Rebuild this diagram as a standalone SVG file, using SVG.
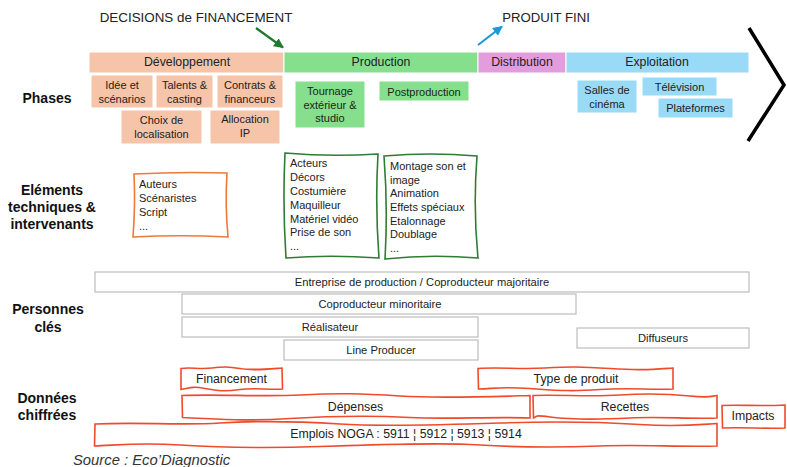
<svg xmlns="http://www.w3.org/2000/svg" width="787" height="467" viewBox="0 0 787 467">
<style>
text{font-family:"Liberation Sans",Arial,sans-serif;fill:#222}
.lbl{font-weight:bold;font-size:14px;text-anchor:middle;fill:#111}
.hd{font-size:12.3px;text-anchor:middle}
.sb{font-size:11px;text-anchor:middle}
.it{font-size:11px}
.gy{font-size:11.2px;text-anchor:middle}
.rd{font-size:12.3px;text-anchor:middle}
.dev{fill:#f6c5a9;stroke:#fff;stroke-width:1}
.prod{fill:#86df8c;stroke:#fff;stroke-width:1}
.dist{fill:#e49ddc;stroke:#fff;stroke-width:1}
.expl{fill:#99daf6;stroke:#fff;stroke-width:1}
.gbox{fill:#fff;stroke:#bdbdbd;stroke-width:1.2}
.red{fill:#fff;stroke:#f04a2a;stroke-width:1.6}
.org{fill:#fff;stroke:#f07838;stroke-width:1.6}
.grn{fill:#fff;stroke:#2e7d32;stroke-width:1.6}
</style>
<defs>
<marker id="ag" viewBox="0 0 10 10" refX="9" refY="5" markerWidth="4.5" markerHeight="4.5" orient="auto"><path d="M0,0 L10,5 L0,10 Z" fill="#1e7a2e"/></marker>
<marker id="ab" viewBox="0 0 10 10" refX="9" refY="5" markerWidth="4.5" markerHeight="4.5" orient="auto"><path d="M0,0 L10,5 L0,10 Z" fill="#1c9ad6"/></marker>
</defs>

<g id="titles">
<text x="196" y="22" style="font-size:13.4px;text-anchor:middle">DECISIONS de FINANCEMENT</text>
<text x="546" y="22" style="font-size:13.2px;text-anchor:middle">PRODUIT FINI</text>
</g>

<g id="connectors">
<line x1="256" y1="28" x2="283" y2="47.5" stroke="#1e7a2e" stroke-width="2.2" marker-end="url(#ag)"/>
<line x1="478" y1="45" x2="502" y2="26.5" stroke="#1c9ad6" stroke-width="2.2" marker-end="url(#ab)"/>
<polyline points="749,28 784,85 748,141" fill="none" stroke="#000" stroke-width="3.5"/>
</g>

<g id="labels">
<text class="lbl" x="47" y="103">Phases</text>
<text class="lbl" x="52" y="195">Eléments</text>
<text class="lbl" x="52" y="212">techniques &amp;</text>
<text class="lbl" x="52" y="229">intervenants</text>
<text class="lbl" x="48" y="314">Personnes</text>
<text class="lbl" x="48" y="332">clés</text>
<text class="lbl" x="47" y="403">Données</text>
<text class="lbl" x="47" y="420">chiffrées</text>
</g>

<g id="phase-developpement">
<rect class="dev" x="89" y="52" width="195" height="21"/>
<text class="hd" x="187" y="66">Développement</text>
</g>
<g id="phase-production">
<rect class="prod" x="284" y="52" width="194" height="21"/>
<text class="hd" x="381" y="66">Production</text>
</g>
<g id="phase-distribution">
<rect class="dist" x="478" y="52" width="88" height="21"/>
<text class="hd" x="522" y="66">Distribution</text>
</g>
<g id="phase-exploitation">
<rect class="expl" x="566" y="52" width="183" height="21"/>
<text class="hd" x="657" y="66">Exploitation</text>
</g>

<g id="idee">
<rect class="dev" x="91" y="75" width="62" height="33"/>
<text class="sb" x="122" y="89">Idée et</text>
<text class="sb" x="122" y="103">scénarios</text>
</g>
<g id="talents">
<rect class="dev" x="156" y="75" width="57" height="33"/>
<text class="sb" x="184.5" y="89">Talents &amp;</text>
<text class="sb" x="184.5" y="103">casting</text>
</g>
<g id="contrats">
<rect class="dev" x="217" y="75" width="66" height="33"/>
<text class="sb" x="250" y="89">Contrats &amp;</text>
<text class="sb" x="250" y="103">financeurs</text>
</g>
<g id="choix">
<rect class="dev" x="121" y="110" width="81" height="34"/>
<text class="sb" x="161.5" y="124">Choix de</text>
<text class="sb" x="161.5" y="138">localisation</text>
</g>
<g id="allocation">
<rect class="dev" x="210" y="110" width="70" height="34"/>
<text class="sb" x="245" y="123">Allocation</text>
<text class="sb" x="245" y="137">IP</text>
</g>
<g id="tournage">
<rect class="prod" x="295" y="81" width="70" height="47"/>
<text class="sb" x="330" y="95">Tournage</text>
<text class="sb" x="330" y="109">extérieur &amp;</text>
<text class="sb" x="330" y="122">studio</text>
</g>
<g id="postproduction">
<rect class="prod" x="379" y="81" width="90" height="20"/>
<text class="sb" x="424" y="95.5">Postproduction</text>
</g>
<g id="salles">
<rect class="expl" x="577" y="80" width="60" height="33"/>
<text class="sb" x="607" y="94">Salles de</text>
<text class="sb" x="607" y="108">cinéma</text>
</g>
<g id="television">
<rect class="expl" x="642" y="77" width="75" height="19"/>
<text class="sb" x="679.5" y="90.5">Télévision</text>
</g>
<g id="plateformes">
<rect class="expl" x="658" y="98" width="75" height="20"/>
<text class="sb" x="695.5" y="112">Plateformes</text>
</g>

<g id="tech-developpement">
<path class="org" d="M134,174 Q180,171.5 227,173 Q225,205 228,237 Q180,234.5 133,237 Q135.5,205 134,174 Z"/>
<text class="it" x="139" y="188">Auteurs</text>
<text class="it" x="139" y="202">Scénaristes</text>
<text class="it" x="139" y="216">Script</text>
<text class="it" x="139" y="230">...</text>
</g>
<g id="tech-tournage">
<path class="grn" d="M285,153 Q330,157 378,154 Q375,205 379,258 Q330,254.5 286,258 Q282.5,205 285,153 Z"/>
<text class="it" x="290" y="167">Acteurs</text>
<text class="it" x="290" y="181">Décors</text>
<text class="it" x="290" y="195">Costumière</text>
<text class="it" x="290" y="209">Maquilleur</text>
<text class="it" x="290" y="223">Matériel vidéo</text>
<text class="it" x="290" y="236">Prise de son</text>
<text class="it" x="290" y="250">...</text>
</g>
<g id="tech-postproduction">
<path class="grn" d="M384,156 Q430,152 477,156 Q473,208 478,258 Q430,254 385,259 Q388,208 384,156 Z"/>
<text class="it" x="390" y="170">Montage son et</text>
<text class="it" x="390" y="184">image</text>
<text class="it" x="390" y="197">Animation</text>
<text class="it" x="390" y="211">Effets spéciaux</text>
<text class="it" x="390" y="225">Etalonnage</text>
<text class="it" x="390" y="238">Doublage</text>
<text class="it" x="390" y="252">...</text>
</g>

<g id="entreprise">
<rect class="gbox" x="95" y="272" width="654" height="20"/>
<text class="gy" x="422" y="286">Entreprise de production / Coproducteur majoritaire</text>
</g>
<g id="coproducteur-minoritaire">
<rect class="gbox" x="182" y="294" width="394" height="20"/>
<text class="gy" x="380" y="308">Coproducteur minoritaire</text>
</g>
<g id="realisateur">
<rect class="gbox" x="182" y="317" width="296" height="20"/>
<text class="gy" x="330" y="331">Réalisateur</text>
</g>
<g id="line-producer">
<rect class="gbox" x="284" y="340" width="194" height="20"/>
<text class="gy" x="381" y="354">Line Producer</text>
</g>
<g id="diffuseurs">
<rect class="gbox" x="577" y="328" width="172" height="20"/>
<text class="gy" x="663" y="342">Diffuseurs</text>
</g>

<g id="financement">
<path class="red" d="M181,368.5 C190,367 200,369.5 212,368 S228,366.5 240,368.5 S262,369.5 282,368 L282.5,389 C268,390 255,387.5 240,389.5 S218,391 205,388.5 S190,388 181,389.5 Z"/>
<text class="rd" x="231.5" y="383">Financement</text>
</g>
<g id="type-produit">
<path class="red" d="M478,368.5 C500,367 520,369.5 545,368 S580,366.5 610,368.5 S650,369.5 673,368 L673,389 C650,390 630,387.5 600,389.5 S560,390.5 530,388.5 S495,388.5 478.5,389 Z"/>
<text class="rd" x="576" y="383">Type de produit</text>
</g>
<g id="depenses">
<path class="red" d="M182,395.5 C220,394 260,397 300,395 S360,393.5 400,396 S480,397 530,395.5 L530,418 C490,416.5 450,419.5 410,417.5 S340,415.5 290,418.5 S220,419 182.5,417.5 Z"/>
<text class="rd" x="355.5" y="411">Dépenses</text>
</g>
<g id="recettes">
<path class="red" d="M533,395.5 C560,394.5 590,397 620,395 S670,394 690,396 S710,396.5 717,395.5 L717,418 C690,419 660,416.5 630,418 S570,419.5 550,417 S538,417 533.5,418 Z"/>
<text class="rd" x="625" y="411">Recettes</text>
</g>
<g id="impacts">
<path class="red" d="M722,405.5 C740,404.5 760,406.5 785,405 L785,428 C765,429 745,427 722.5,428 Z"/>
<text class="rd" x="753" y="420">Impacts</text>
</g>
<g id="emplois">
<path class="red" d="M95,424 C140,422 180,425.5 220,423 S300,421.5 340,424 S440,425 500,423 S600,422 640,424.5 S700,424.5 717,423.5 L717,446 C680,447 640,444.5 600,446 S520,447.5 480,445 S380,444.5 320,446.5 S220,447.5 180,445 S120,445 94.5,446 Z"/>
<text class="rd" x="406" y="438">Emplois NOGA : 5911 ¦ 5912 ¦ 5913 ¦ 5914</text>
</g>

<g id="source">
<text x="73" y="465" style="font-size:14.8px;font-style:italic;fill:#333">Source : Eco’Diagnostic</text>
</g>
</svg>
